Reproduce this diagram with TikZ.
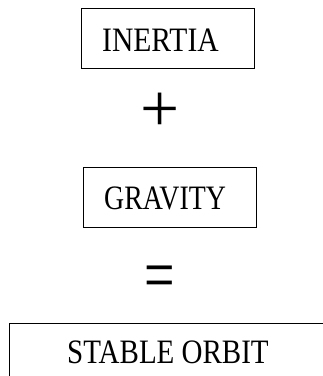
\documentclass[tikz,border=0pt]{standalone}
\usepackage{fontspec}
\setmainfont{Liberation Serif}
\begin{document}
\begin{tikzpicture}[x=1pt,y=-1pt,
  box/.style={draw,line width=1pt,rectangle,inner sep=0pt,anchor=north west},
  label/.style={inner sep=0pt,anchor=base west,font=\fontsize{29}{30}\selectfont},
  sym/.style={inner sep=0pt,anchor=center}]
\useasboundingbox (0,0) rectangle (323,376);
% boxes
\node[box,minimum width=173pt,minimum height=60pt] (inertiabox) at (81,8) {};
\node[box,minimum width=173pt,minimum height=60pt] (gravitybox) at (83,167) {};
\node[box,minimum width=340pt,minimum height=80pt] (orbitbox) at (9,323) {};
% texts
\node[label] (inertia) at (102,51) {\scalebox{1.02}[1.18]{INERTIA}};
\node[label] (gravity) at (104,209) {\scalebox{0.96}[1.18]{GRAVITY}};
\node[label] (orbit) at (67,363) {\scalebox{1}[1.18]{STABLE ORBIT}};
% operators
\node[sym,font=\fontsize{68}{68}\selectfont] (plus) at (160.5,112) {\scalebox{1.02}[1]{+}};
\node[sym,font=\fontsize{54}{54}\selectfont] (equals) at (160,283.5) {\scalebox{1}[1.4]{=}};
\end{tikzpicture}
\end{document}
